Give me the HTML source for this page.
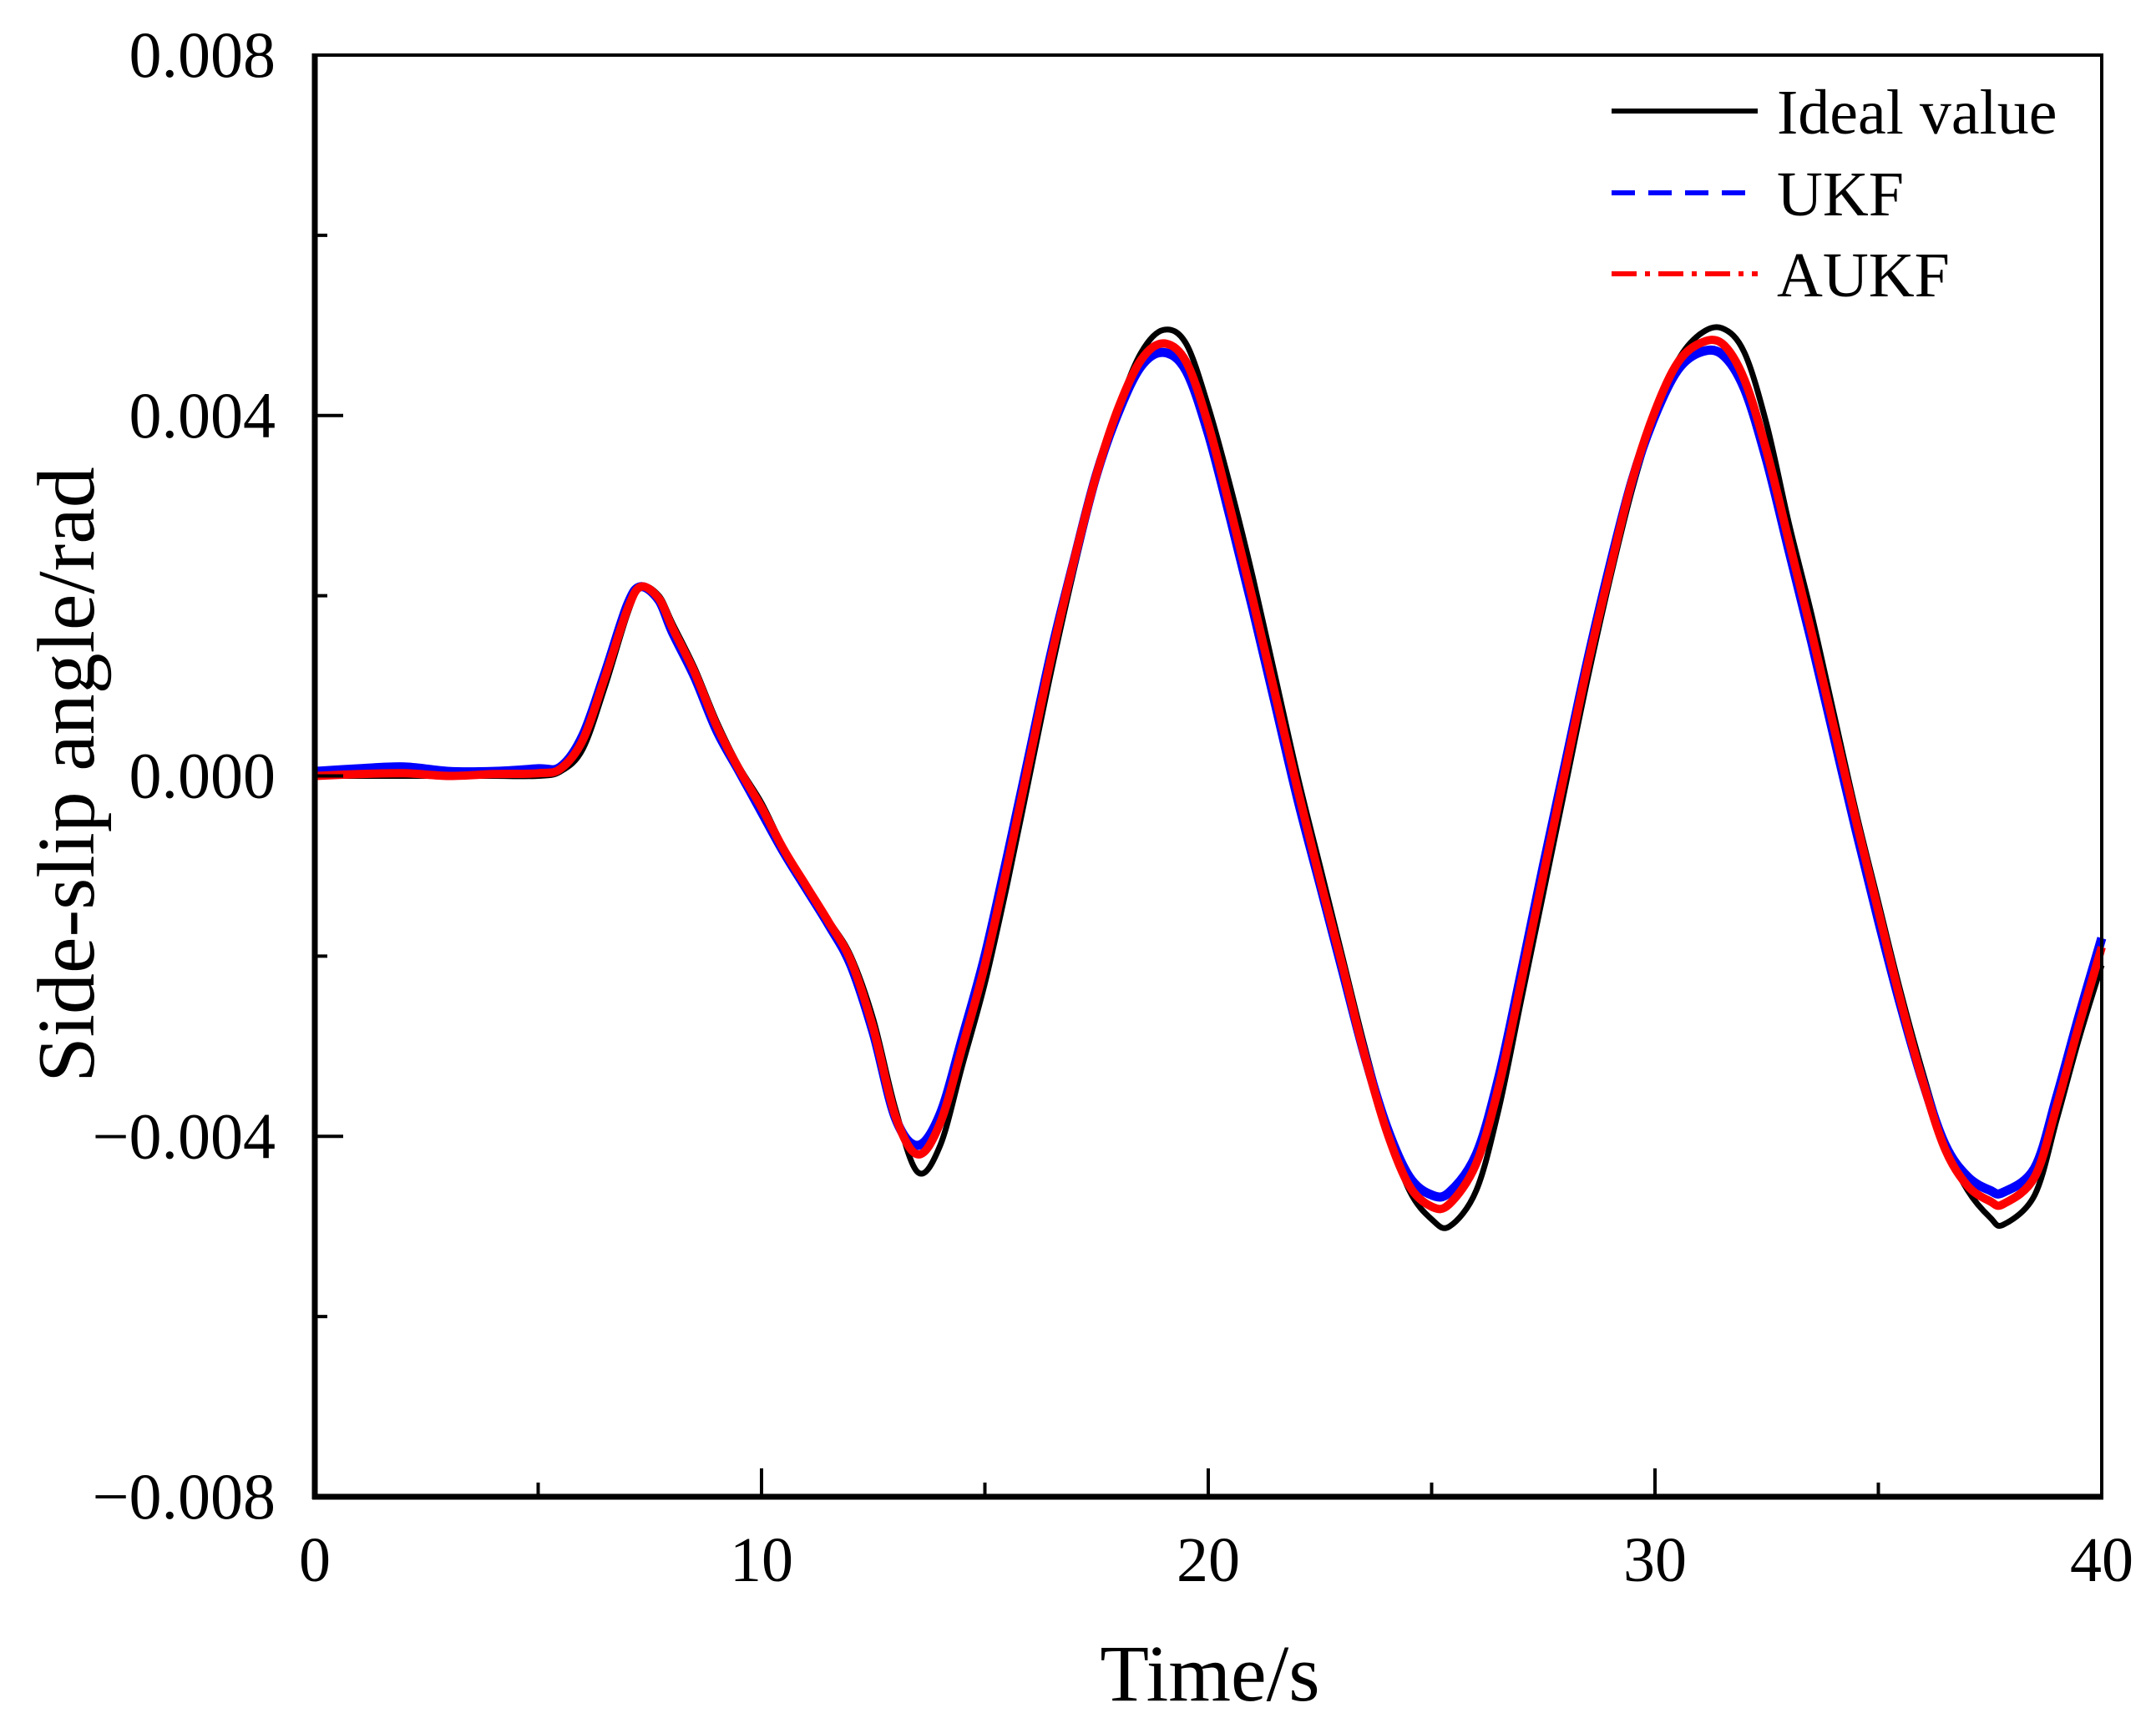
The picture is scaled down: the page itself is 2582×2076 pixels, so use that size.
<!DOCTYPE html>
<html><head><meta charset="utf-8"><style>
html,body{margin:0;padding:0;background:#fff}
svg{display:block}
text{font-family:"Liberation Serif","Times New Roman",serif;fill:#000}
</style></head><body>
<svg id="chart" width="2582" height="2076" viewBox="0 0 2582 2076" xmlns="http://www.w3.org/2000/svg">
<rect width="2582" height="2076" fill="#fff"/>
<g id="series"></g>
<g id="axes"></g>
<text x="1449" y="2037" font-size="96" text-anchor="middle">Time/s</text>
<text x="0" y="0" font-size="98" text-anchor="middle" transform="translate(112,928) rotate(-90)">Side-slip angle/rad</text>
<g>
  <line x1="1930" y1="133" x2="2105" y2="133" stroke="#000" stroke-width="6"/>
  <text x="2128" y="160" font-size="76">Ideal value</text>
  <line x1="1930" y1="231" x2="2105" y2="231" stroke="#0000ff" stroke-width="6" stroke-dasharray="28,16"/>
  <text x="2128" y="258" font-size="76">UKF</text>
  <line x1="1930" y1="328" x2="2105" y2="328" stroke="#ff0000" stroke-width="6" stroke-dasharray="30,10,6,10"/>
  <text x="2128" y="355" font-size="76">AUKF</text>
</g>
</svg>
<script>
const times = [0,1,2,3,4,5,5.5,6,6.5,7,7.3,7.7,8,8.5,9,9.5,10,10.5,11,11.5,12,12.5,13,13.5,14,14.5,15,15.5,16,16.5,17,17.5,18,18.5,19,19.5,20,20.5,21,21.5,22,22.5,23,23.5,24,24.5,25,25.4,26,26.5,27,27.5,28,28.5,29,29.5,30,30.5,31,31.5,32,32.5,33,33.5,34,34.5,35,35.5,36,36.5,37,37.5,37.8,38.5,39,39.5,40];
const idealValues = [0,0,0,0,0,0,0.05,0.3,1.0,1.8,2.1,2.0,1.7,1.2,0.6,0.1,-0.3,-0.8,-1.2,-1.6,-2.0,-2.7,-3.7,-4.4,-4.1,-3.2,-2.3,-1.2,0,1.2,2.3,3.3,4.1,4.7,4.95,4.8,4.1,3.2,2.2,1.1,0,-1.0,-2.0,-3.0,-3.9,-4.6,-4.92,-5.0,-4.6,-3.7,-2.5,-1.3,-0.1,1.1,2.2,3.2,4.0,4.6,4.9,4.97,4.7,3.9,2.8,1.8,0.7,-0.4,-1.4,-2.4,-3.3,-4.1,-4.6,-4.9,-4.98,-4.65,-3.8,-2.9,-2.1];
const ukfValues = [0.05,0.08,0.1,0.05,0.05,0.08,0.1,0.45,1.15,1.9,2.1,1.95,1.6,1.1,0.5,0.05,-0.4,-0.85,-1.25,-1.65,-2.1,-2.85,-3.8,-4.1,-3.75,-2.9,-2.0,-0.9,0.25,1.4,2.4,3.35,4.05,4.55,4.7,4.5,3.8,2.85,1.85,0.8,-0.25,-1.2,-2.15,-3.1,-3.9,-4.45,-4.65,-4.62,-4.2,-3.35,-2.2,-1.0,0.15,1.3,2.35,3.3,4.0,4.5,4.7,4.68,4.3,3.5,2.5,1.5,0.45,-0.6,-1.6,-2.55,-3.4,-4.1,-4.45,-4.6,-4.62,-4.35,-3.55,-2.65,-1.8];
const aukfValues = [0,0.02,0.03,0,0.02,0.03,0.08,0.4,1.1,1.85,2.1,1.97,1.65,1.15,0.55,0.07,-0.35,-0.82,-1.22,-1.62,-2.05,-2.8,-3.78,-4.2,-3.85,-3.0,-2.1,-1.0,0.18,1.35,2.4,3.35,4.1,4.62,4.8,4.6,3.9,2.95,1.95,0.9,-0.15,-1.15,-2.1,-3.1,-3.95,-4.55,-4.78,-4.75,-4.3,-3.45,-2.3,-1.1,0.08,1.25,2.3,3.3,4.05,4.58,4.8,4.8,4.4,3.6,2.6,1.6,0.55,-0.5,-1.5,-2.5,-3.4,-4.15,-4.55,-4.72,-4.75,-4.45,-3.65,-2.75,-1.9];
const xTicks = [0,10,20,30,40];
const xTickLabels = ["0","10","20","30","40"];
const yTicks = [0.008,0.004,0,-0.004,-0.008];
const yTickLabels = ["0.008","0.004","0.000","\u22120.004","\u22120.008"];

const NS = "http://www.w3.org/2000/svg";
const L = 377, R = 2517, T = 66, B = 1793;
function xs(t){ return L + (t - 0) / 40 * (R - L); }
function ys(v){ return T + (0.008 - v) / 0.016 * (B - T); }

function smoothPath(xv, yv){
  const p = xv.map((t,i)=>[xs(t), ys(yv[i]*1e-3)]);
  let d = "M" + p[0][0].toFixed(1) + "," + p[0][1].toFixed(1);
  for (let i=0;i<p.length-1;i++){
    const p0 = p[Math.max(0,i-1)], p1=p[i], p2=p[i+1], p3=p[Math.min(p.length-1,i+2)];
    const c1x = p1[0]+(p2[0]-p0[0])/6, c1y = p1[1]+(p2[1]-p0[1])/6;
    const c2x = p2[0]-(p3[0]-p1[0])/6, c2y = p2[1]-(p3[1]-p1[1])/6;
    d += " C"+c1x.toFixed(1)+","+c1y.toFixed(1)+" "+c2x.toFixed(1)+","+c2y.toFixed(1)+" "+p2[0].toFixed(1)+","+p2[1].toFixed(1);
  }
  return d;
}
const sg = document.getElementById("series");
const ideal = document.createElementNS(NS,"path");
ideal.setAttribute("d", smoothPath(times, idealValues));
ideal.setAttribute("fill","none"); ideal.setAttribute("stroke","#000"); ideal.setAttribute("stroke-width","7");


sg.appendChild(ideal);
const ukf = document.createElementNS(NS,"path");
ukf.setAttribute("d", smoothPath(times, ukfValues));
ukf.setAttribute("fill","none"); ukf.setAttribute("stroke","#0000ff"); ukf.setAttribute("stroke-width","11");


sg.appendChild(ukf);
const aukf = document.createElementNS(NS,"path");
aukf.setAttribute("d", smoothPath(times, aukfValues));
aukf.setAttribute("fill","none"); aukf.setAttribute("stroke","#ff0000"); aukf.setAttribute("stroke-width","10");


sg.appendChild(aukf);

const ag = document.getElementById("axes");
const frame = document.createElementNS(NS,"rect");
frame.setAttribute("x",L); frame.setAttribute("y",T); frame.setAttribute("width",R-L); frame.setAttribute("height",B-T);
frame.setAttribute("fill","none"); frame.setAttribute("stroke","#000"); frame.setAttribute("stroke-width","4");


ag.appendChild(frame);
const la = document.createElementNS(NS,"line");
la.setAttribute("x1",L); la.setAttribute("y1",T-2); la.setAttribute("x2",L); la.setAttribute("y2",B+3);
la.setAttribute("stroke","#000"); la.setAttribute("stroke-width","7");


ag.appendChild(la);
const ba = document.createElementNS(NS,"line");
ba.setAttribute("x1",L-3); ba.setAttribute("y1",B); ba.setAttribute("x2",R+2); ba.setAttribute("y2",B);
ba.setAttribute("stroke","#000"); ba.setAttribute("stroke-width","7");


ag.appendChild(ba);

for (let i=0;i<xTicks.length*2-1;i++){
  const t = i*5, major = i%2===0;
  const tk = document.createElementNS(NS,"line");
  tk.setAttribute("x1",xs(t)); tk.setAttribute("x2",xs(t)); tk.setAttribute("y1",B); tk.setAttribute("y2",B-(major?34:17));
  tk.setAttribute("stroke","#000"); tk.setAttribute("stroke-width","4");
  
  
  ag.appendChild(tk);
}
xTicks.forEach((t,i)=>{
  const tx = document.createElementNS(NS,"text");
  tx.setAttribute("x",xs(t)); tx.setAttribute("y",1894); tx.setAttribute("font-size","76"); tx.setAttribute("text-anchor","middle");
  tx.textContent = xTickLabels[i];
  
  
  ag.appendChild(tx);
});
for (let i=0;i<yTicks.length*2-1;i++){
  const v = 0.008 - i*0.002, major = i%2===0;
  const tk = document.createElementNS(NS,"line");
  tk.setAttribute("x1",L); tk.setAttribute("x2",L+(major?34:15)); tk.setAttribute("y1",ys(v)); tk.setAttribute("y2",ys(v));
  tk.setAttribute("stroke","#000"); tk.setAttribute("stroke-width","4");
  
  
  ag.appendChild(tk);
}
yTicks.forEach((v,i)=>{
  const tx = document.createElementNS(NS,"text");
  tx.setAttribute("x",330); tx.setAttribute("y",ys(v)+26); tx.setAttribute("font-size","78"); tx.setAttribute("text-anchor","end");
  tx.textContent = yTickLabels[i];
  
  
  ag.appendChild(tx);
});
</script>
</body></html>
